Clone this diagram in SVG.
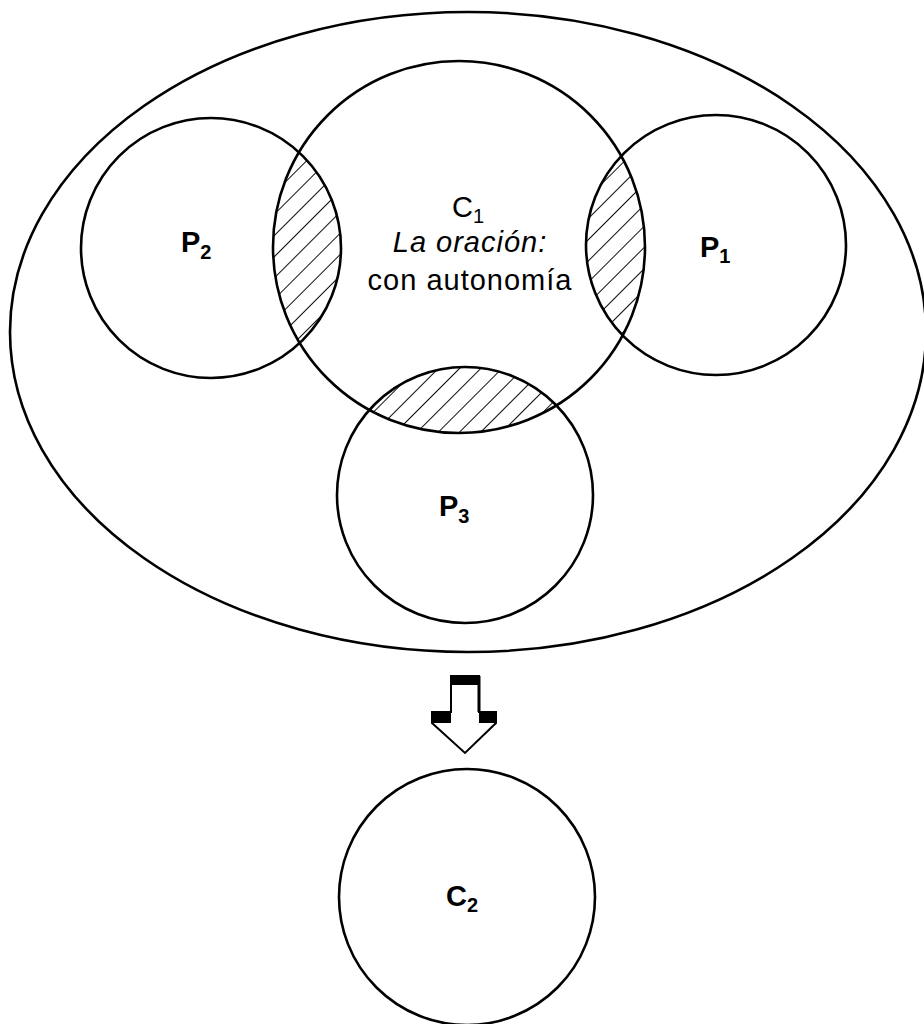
<svg xmlns="http://www.w3.org/2000/svg" width="924" height="1024" viewBox="0 0 924 1024">
<style>
.ln{fill:none;stroke:#000;stroke-width:2.6}
.lbl{font-family:"Liberation Sans",Arial,sans-serif;font-weight:bold;font-size:29px;fill:#000}
.txt{font-family:"Liberation Sans",Arial,sans-serif;font-size:29px;fill:#000;letter-spacing:1px}
.sub{font-size:20px}
</style>
<defs>
<pattern id="hatch" width="15" height="15" patternUnits="userSpaceOnUse" patternTransform="rotate(45)">
<line x1="0" y1="0" x2="0" y2="15" stroke="#000" stroke-width="1.9"/>
</pattern>
<clipPath id="clipC1"><circle cx="459" cy="247" r="186"/></clipPath>
</defs>
<rect width="924" height="1024" fill="#fff"/>
<g id="outer"><ellipse class="ln" cx="468" cy="332" rx="458" ry="320"/></g>
<g id="hatching" clip-path="url(#clipC1)">
<circle cx="211" cy="248" r="130" fill="url(#hatch)"/>
<circle cx="716" cy="245" r="130" fill="url(#hatch)"/>
<circle cx="465" cy="495" r="128" fill="url(#hatch)"/>
</g>
<g id="C1">
<circle class="ln" cx="459" cy="247" r="186"/>
<text class="txt" x="452" y="217" style="letter-spacing:0">C<tspan class="sub" dy="6">1</tspan></text>
<text class="txt" x="470" y="252" text-anchor="middle" font-style="italic">La oración:</text>
<text class="txt" x="470" y="290" text-anchor="middle">con autonomía</text>
</g>
<g id="P2">
<circle class="ln" cx="211" cy="248" r="130"/>
<text class="lbl" x="181" y="252">P<tspan class="sub" dy="7">2</tspan></text>
</g>
<g id="P1">
<circle class="ln" cx="716" cy="245" r="130"/>
<text class="lbl" x="700" y="257">P<tspan class="sub" dy="6">1</tspan></text>
</g>
<g id="P3">
<circle class="ln" cx="465" cy="495" r="128"/>
<text class="lbl" x="439" y="516">P<tspan class="sub" dy="7">3</tspan></text>
</g>
<g id="connectors">
<polygon points="451,676 479,676 479,712 496,712 496,723 465,753 432,723 432,712 451,712" fill="#fff" stroke="#000" stroke-width="2"/>
<rect x="451" y="675" width="28" height="10" fill="#000"/>
<rect x="432" y="712" width="19" height="11" fill="#000"/>
<rect x="479" y="712" width="17" height="11" fill="#000"/>
<line x1="479" y1="676" x2="479" y2="712" stroke="#000" stroke-width="3"/>
</g>
<g id="C2">
<circle class="ln" cx="467" cy="897" r="128"/>
<text class="lbl" x="446" y="906">C<tspan class="sub" dy="6">2</tspan></text>
</g>
</svg>
